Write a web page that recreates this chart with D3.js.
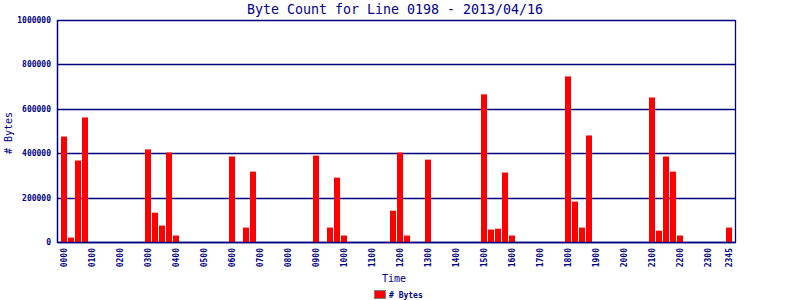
<!DOCTYPE html>
<meta charset="utf-8">
<head>
<style>
  body { margin: 0; background: #fff; }
  text { font-family: "DejaVu Sans Mono", monospace; fill: #000080; }
  .tick-label { font-size: 8px; font-weight: bold; }
</style>
</head>
<body>
<script src="https://d3js.org/d3.v7.min.js"></script>
<script>
// bytes per 15 minute slot, 0000 .. 2345
var byteCounts = [
  475000, 20000, 367000, 561000, 0, 0, 0, 0,
  0, 0, 0, 0, 417000, 132000, 74000, 403000,
  29000, 0, 0, 0, 0, 0, 0, 0,
  385000, 0, 65000, 317000, 0, 0, 0, 0,
  0, 0, 0, 0, 389000, 0, 65000, 290000,
  29000, 0, 0, 0, 0, 0, 0, 141000,
  403000, 29000, 0, 0, 371000, 0, 0, 0,
  0, 0, 0, 0, 665000, 56000, 60000, 313000,
  29000, 0, 0, 0, 0, 0, 0, 0,
  746000, 182000, 65000, 480000, 0, 0, 0, 0,
  0, 0, 0, 0, 651000, 51000, 385000, 317000,
  29000, 0, 0, 0, 0, 0, 0, 65000
];
var xTickLabels = ["0000", "0100", "0200", "0300", "0400", "0500", "0600", "0700",
  "0800", "0900", "1000", "1100", "1200", "1300", "1400", "1500", "1600", "1700",
  "1800", "1900", "2000", "2100", "2200", "2300", "2345"];
var yTicks = [0, 200000, 400000, 600000, 800000, 1000000];

var slots = byteCounts.map(function (d, i) {
  var h = Math.floor(i / 4), m = (i % 4) * 15;
  return (h < 10 ? "0" : "") + h + (m < 10 ? "0" : "") + m;
});

var W = 800, H = 300;
var plotLeft = 57.5, plotRight = 735.5, plotTop = 20, plotBottom = 242;
var navy = "#000080";

var svg = d3.select("body").append("svg")
  .attr("width", W).attr("height", H);

var x = d3.scaleBand()
  .domain(slots)
  .range([plotLeft, plotRight])
  .paddingInner(1 / 7)
  .paddingOuter(0.5);

var y = d3.scaleLinear()
  .domain([0, 1000000])
  .range([plotBottom, plotTop]);

// title
svg.append("text")
  .attr("x", 395).attr("y", 14)
  .attr("text-anchor", "middle")
  .style("font-size", "13.3px")
  .text("Byte Count for Line 0198 - 2013/04/16");

// grid
svg.selectAll(".grid")
  .data(yTicks)
  .enter().append("line")
  .attr("x1", plotLeft).attr("x2", plotRight)
  .attr("y1", function (d) { return Math.round(y(d)) + 0.5; })
  .attr("y2", function (d) { return Math.round(y(d)) + 0.5; })
  .attr("stroke", navy).attr("stroke-width", 1.3);

// y tick labels
svg.selectAll(".ylab")
  .data(yTicks)
  .enter().append("text")
  .attr("class", "tick-label")
  .attr("x", 51).attr("y", function (d) { return y(d) + 3; })
  .attr("text-anchor", "end")
  .text(function (d) { return d; });

// bars
svg.selectAll(".bar")
  .data(byteCounts)
  .enter().append("rect")
  .attr("x", function (d, i) { return x(slots[i]); })
  .attr("width", x.bandwidth())
  .attr("y", function (d) { return y(d); })
  .attr("height", function (d) { return plotBottom - y(d); })
  .attr("fill", "#ff0000");

// frame: left, right, bottom
svg.append("line")
  .attr("x1", plotLeft).attr("x2", plotLeft).attr("y1", plotTop).attr("y2", plotBottom + 1)
  .attr("stroke", navy).attr("stroke-width", 1.5);
svg.append("line")
  .attr("x1", plotRight).attr("x2", plotRight).attr("y1", plotTop).attr("y2", plotBottom + 1)
  .attr("stroke", navy).attr("stroke-width", 1.3);
svg.append("line")
  .attr("x1", plotLeft).attr("x2", plotRight).attr("y1", plotBottom + 0.5).attr("y2", plotBottom + 0.5)
  .attr("stroke", navy).attr("stroke-width", 1.5);

// x tick labels (rotated)
svg.selectAll(".xlab")
  .data(xTickLabels)
  .enter().append("text")
  .attr("class", "tick-label")
  .attr("text-anchor", "end")
  .attr("transform", function (d) {
    var cx = x(d) + x.bandwidth() / 2 + 2.5;
    return "translate(" + cx + ",248) rotate(-90)";
  })
  .text(function (d) { return d; });

// axis titles
svg.append("text")
  .attr("transform", "translate(12,133) rotate(-90)")
  .attr("text-anchor", "middle")
  .style("font-size", "10px")
  .text("# Bytes");

svg.append("text")
  .attr("x", 394).attr("y", 282)
  .attr("text-anchor", "middle")
  .style("font-size", "10px")
  .text("Time");

// legend
svg.append("rect")
  .attr("x", 374.5).attr("y", 290.5).attr("width", 11).attr("height", 8)
  .attr("fill", "#ff0000").attr("stroke", "#808080");
svg.append("text")
  .attr("class", "tick-label")
  .attr("x", 389).attr("y", 298)
  .text("# Bytes");
</script>
</body>
